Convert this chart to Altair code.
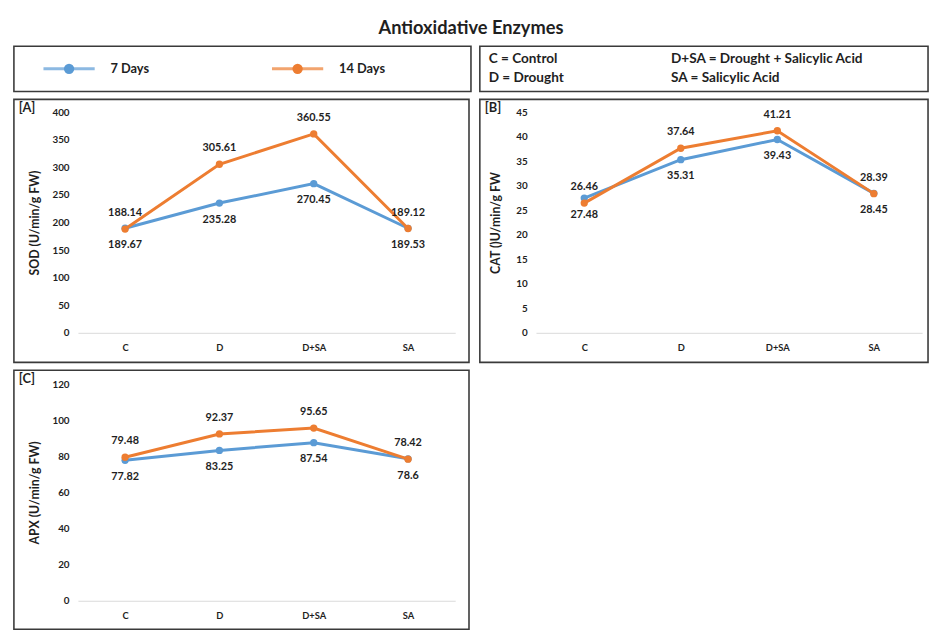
import altair as alt
import pandas as pd

categories = ["C", "D", "D+SA", "SA"]
series = ["7 Days", "14 Days"]
colors = ["#5B9BD5", "#ED7D31"]

sod_7 = [189.67, 235.28, 270.45, 189.53]
sod_14 = [188.14, 305.61, 360.55, 189.12]
cat_7 = [27.48, 35.31, 39.43, 28.45]
cat_14 = [26.46, 37.64, 41.21, 28.39]
apx_7 = [77.82, 83.25, 87.54, 78.6]
apx_14 = [79.48, 92.37, 95.65, 78.42]

abbreviations = ["C = Control", "D = Drought",
                 "D+SA = Drought + Salicylic Acid", "SA = Salicylic Acid"]

FONT = "Lato"
TEXT = "#1f1f1f"
BORDER = "#3a3a3a"
one_row = pd.DataFrame({"k": [0]})
color_scale = alt.Scale(domain=series, range=colors)

LEFT1 = 65   # left extent of first column boxes (from plot origin)
LEFT2 = 57   # left extent of second column boxes


def long_df(v7, v14):
    rows = []
    for s, vals in zip(series, [v7, v14]):
        for c, v in zip(categories, vals):
            rows.append({"cat": c, "series": s, "value": v, "label": f"{v:g}"})
    return pd.DataFrame(rows)


def border(x0, x1, y0, y1):
    return alt.Chart(one_row).mark_rect(
        fillOpacity=0, stroke=BORDER, strokeWidth=1.6
    ).encode(x=alt.value(x0), x2=alt.value(x1), y=alt.value(y0), y2=alt.value(y1))


def panel(v7, v14, tag, ytitle, ymax, ystep, w, h, box, title_x):
    left, right, top, bottom = box
    df = long_df(v7, v14)
    x = alt.X("cat:N", sort=categories,
              scale=alt.Scale(type="point", padding=0.5, domain=categories),
              axis=alt.Axis(title=None, labelFont=FONT, labelFontSize=9.5,
                            labelFontWeight="bold", labelColor=TEXT,
                            labelPadding=10, ticks=False, domainColor="#d9d9d9",
                            domainWidth=1, labelAngle=0))
    y = alt.Y("value:Q", scale=alt.Scale(domain=[0, ymax], nice=False),
              axis=alt.Axis(title=ytitle, values=list(range(0, ymax + 1, ystep)),
                            grid=False, domain=False, ticks=False,
                            labelFont=FONT, labelFontSize=10, labelFontWeight="bold",
                            labelColor=TEXT, labelPadding=9,
                            titleFont=FONT, titleFontSize=12.5, titleFontWeight="bold",
                            titleColor=TEXT, titleX=-title_x, titleY=h / 2,
                            titleAngle=270, titleAlign="center",
                            titleBaseline="middle"))
    col = alt.Color("series:N", scale=color_scale, legend=None)
    layers = [border(-left, w + right, -top, h + bottom)]
    for s in series:
        base = alt.Chart(df).transform_filter(alt.datum.series == s).encode(
            x=x, y=y, color=col)
        layers.append(base.mark_line(strokeWidth=3))
        layers.append(base.mark_point(filled=True, size=55, opacity=1))
    for s, dy in zip(series, [17, -16]):
        layers.append(
            alt.Chart(df).transform_filter(alt.datum.series == s)
            .mark_text(dy=dy, font=FONT, fontSize=11, fontWeight="bold", color=TEXT)
            .encode(x=x, y=y, text="label:N")
        )
    layers.append(
        alt.Chart(one_row).mark_text(align="left", baseline="middle", font=FONT,
                                     fontSize=13, fontWeight="bold", color=TEXT)
        .encode(x=alt.value(-left + 5), y=alt.value(-top + 9), text=alt.value(tag))
    )
    return alt.layer(*layers).properties(width=w, height=h)


pA = panel(sod_7, sod_14, "[A]", "SOD (U/min/g FW)", 400, 50, 383, 224,
           (LEFT1, 14, 13, 30), 44)
pB = panel(cat_7, cat_14, "[B]", "CAT ()U/min/g FW", 45, 5, 392, 224,
           (LEFT2, 6, 13, 30), 41)
pC = panel(apx_7, apx_14, "[C]", "APX (U/min/g FW)", 120, 20, 383, 220,
           (LEFT1, 14, 14, 29), 44)

# legend box (same left extent as panel A so the columns line up)
leg_df = pd.DataFrame({"series": series})
leg_x = alt.X("series:N", sort=series,
              scale=alt.Scale(type="point", domain=series,
                              range=[56 - LEFT1, 288 - LEFT1], padding=0),
              axis=None)
leg_col = alt.Color("series:N", scale=color_scale, legend=None)
legend = alt.layer(
    border(-LEFT1, 464 - LEFT1, 0, 46),
    alt.Chart(leg_df).mark_tick(orient="horizontal", size=52, thickness=3)
    .encode(x=leg_x, y=alt.value(23), color=leg_col),
    alt.Chart(leg_df).mark_point(filled=True, size=110, opacity=1)
    .encode(x=leg_x, y=alt.value(23), color=leg_col),
    alt.Chart(leg_df).mark_text(align="left", baseline="middle", dx=42, font=FONT,
                                fontSize=13, fontWeight="bold", color=TEXT)
    .encode(x=leg_x, y=alt.value(23), text="series:N"),
).properties(width=464 - LEFT1, height=46)

# abbreviations box
abbr_df = pd.DataFrame({"text": abbreviations,
                        "col": [i // 2 for i in range(len(abbreviations))],
                        "row": [i % 2 for i in range(len(abbreviations))]})
defs = alt.layer(
    border(-LEFT2, 455 - LEFT2, 0, 46),
    alt.Chart(abbr_df).mark_text(align="left", baseline="middle", font=FONT,
                                 fontSize=13.8, fontWeight="bold", color=TEXT)
    .encode(
        x=alt.X("col:O", scale=alt.Scale(type="point", domain=[0, 1],
                                         range=[9 - LEFT2, 194 - LEFT2], padding=0),
                axis=None),
        y=alt.Y("row:O", scale=alt.Scale(type="point", domain=[0, 1],
                                         range=[13, 32], padding=0), axis=None),
        text="text:N",
    ),
).properties(width=455 - LEFT2, height=46)

chart = alt.concat(legend, defs, pA, pB, pC, columns=2,
                   spacing={"row": 4, "column": 5}).properties(
    title=alt.TitleParams("Antioxidative Enzymes", font=FONT, fontSize=18.5,
                          fontWeight="bold", color=TEXT, anchor="middle", offset=8),
    padding={"left": 4, "right": 0, "top": 6, "bottom": 0},
).configure_view(stroke="transparent")

chart.save("out.html", embed_options={"renderer": "svg", "actions": False})
